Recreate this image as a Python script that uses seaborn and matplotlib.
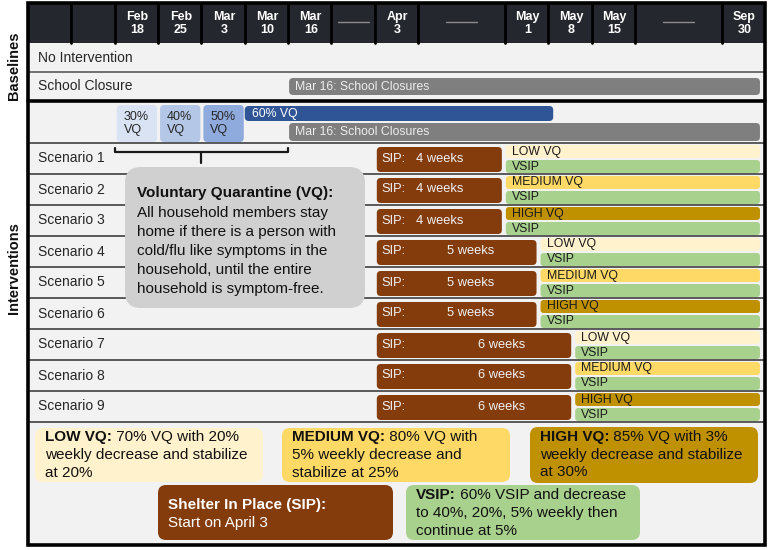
import datetime as dt
import numpy as np
import matplotlib.pyplot as plt
from matplotlib.patches import FancyBboxPatch, Rectangle
import seaborn as sns

# --- data -------------------------------------------------------------------
# header columns of the timeline (one column = one week, "None" = skipped stretch)
header_labels = ["", "", "Feb\n18", "Feb\n25", "Mar\n3", "Mar\n10", "Mar\n16",
                 None, "Apr\n3", None, "May\n1", "May\n8", "May\n15", None, "Sep\n30"]
header_widths = [1, 1, 1, 1, 1, 1, 1, 1, 1, 2, 1, 1, 1, 2, 1]

baselines = ["No Intervention", "School Closure"]
school_closure_start = "Mar 16"

vq_ramp_pct = [30, 40, 50]
vq_ramp_dates = ["Feb 18", "Feb 25", "Mar 3"]
vq_full_pct = 60
vq_full_span = ("Mar 10", "May 8")

scenarios = ["Scenario 1", "Scenario 2", "Scenario 3", "Scenario 4", "Scenario 5",
             "Scenario 6", "Scenario 7", "Scenario 8", "Scenario 9"]
sip_weeks = [4, 4, 4, 5, 5, 5, 6, 6, 6]
vq_levels = ["LOW VQ", "MEDIUM VQ", "HIGH VQ", "LOW VQ", "MEDIUM VQ", "HIGH VQ",
             "LOW VQ", "MEDIUM VQ", "HIGH VQ"]
sip_start = dt.date(2020, 4, 3)

level_colors = {"LOW VQ": "#fff2cc", "MEDIUM VQ": "#ffd966", "HIGH VQ": "#bf9000"}
ramp_colors = ["#dae3f3", "#b4c7e7", "#8faadc"]
C_SIP, C_VSIP, C_GRAY, C_BLUE = "#843c0c", "#a9d18e", "#7f7f7f", "#2f5597"

# --- style ------------------------------------------------------------------
sns.set_theme(style="white")
plt.rcParams["font.family"] = ["Liberation Sans", "DejaVu Sans"]

PX = 43.35   # pixels per week-column
X0 = 28      # left edge of the frame (px)
fig = plt.figure(figsize=(7.68, 5.5), dpi=100)
ax = fig.add_axes([0, 0, 1, 1])
ax.set_xlim(-X0 / PX, (768 - X0) / PX)
ax.set_ylim(550, 0)
ax.axis("off")
renderer = fig.canvas.get_renderer()


def px(v):
    return (v - X0) / PX


def d(n):
    return n / PX


def rbox(x0, x1, y0, y1, color, r=4, z=2):
    ax.add_patch(FancyBboxPatch((x0, y0), x1 - x0, y1 - y0,
                                boxstyle=f"round,pad=0,rounding_size={r / PX}",
                                mutation_aspect=PX, fc=color, ec="none", zorder=z))


def mixed(x, y, bold, rest, color, size=11, z=3):
    """bold lead-in followed by regular text on the same line"""
    t = ax.text(x, y, bold, va="center", fontsize=size, fontweight="bold",
                color=color, zorder=z)
    if rest:
        bb = t.get_window_extent(renderer)
        x_end = ax.transData.inverted().transform((bb.x1, bb.y0))[0]
        ax.text(x_end, y, " " + rest, va="center", fontsize=size, color=color, zorder=z)


# column positions of the dates
edges = np.concatenate([[0], np.cumsum(header_widths)])
END = edges[-1]
col = {}
for lab, e in zip(header_labels, edges[:-1]):
    if lab:
        col[lab.replace("\n", " ")] = e


def date_key(day):
    return f"{day:%b} {day.day}"


# frame + header
ax.add_patch(Rectangle((0, 3), END, 542, fc="#f2f2f2", ec="none", zorder=0))
ax.add_patch(Rectangle((0, 3), END, 40, fc="#24272e", ec="none", zorder=1))
for e in edges[1:-1]:
    ax.plot([e, e], [3, 43], color="#000000", lw=2, zorder=1.5)
for lab, e, w in zip(header_labels, edges[:-1], header_widths):
    cx = e + w / 2
    if lab is None:
        ax.plot([cx - 0.36, cx + 0.36], [22, 22], color="#8c8c8c", lw=1, zorder=2)
    elif lab:
        ax.text(cx + d(1), 23.5, lab, ha="center", va="center", color="white",
                fontsize=9, fontweight="bold", linespacing=1.15, zorder=3)

# row separators
ax.plot([0, END], [72, 72], color="#595959", lw=1.2, zorder=1)
ax.plot([0, END], [101, 101], color="#000000", lw=2.6, zorder=1)
for k in range(len(scenarios) + 1):
    y = 143 + 31 * k
    ax.plot([0, END], [y, y], color="#4d4d4d", lw=1.3, zorder=1)
ax.add_patch(Rectangle((0, 3), END, 542, fc="none", ec="#000000", lw=2.6, zorder=5))

# group labels
ax.text(px(14), 66, "Baselines", rotation=90, ha="center", va="center",
        fontsize=10.5, fontweight="bold", color="#111111")
ax.text(px(14), 268, "Interventions", rotation=90, ha="center", va="center",
        fontsize=10.5, fontweight="bold", color="#111111")

# baselines
for k, name in enumerate(baselines):
    ax.text(px(38), 57.5 + 29 * k, name, va="center", fontsize=10, color="#262626", zorder=3)
sc = col[school_closure_start]
rbox(sc + d(1), END - d(5), 78, 95, C_GRAY)
ax.text(sc + d(7), 86.5, "Mar 16: School Closures", va="center", fontsize=8.8,
        color="#eeeeee", zorder=3)

# voluntary quarantine ramp
for p, day, c in zip(vq_ramp_pct, vq_ramp_dates, ramp_colors):
    x = col[day]
    rbox(x + d(2), x + 1 - d(1), 105, 142, c)
    ax.text(x + d(9), 123.5, f"{p}%\nVQ", va="center", fontsize=9, linespacing=1.05,
            color="#262626", zorder=3)
v0, v1 = col[vq_full_span[0]], col[vq_full_span[1]]
rbox(v0, v1 + d(5), 106, 121, C_BLUE)
ax.text(v0 + d(7), 113.5, f"{vq_full_pct}% VQ", va="center", fontsize=8.8,
        color="white", zorder=3)
rbox(sc + d(1), END - d(5), 123, 141, C_GRAY)
ax.text(sc + d(7), 132, "Mar 16: School Closures", va="center", fontsize=8.8,
        color="#eeeeee", zorder=3)

# bracket under the VQ ramp
b0, b1 = col[vq_ramp_dates[0]], col[school_closure_start]
ax.plot([b0, b0, b1, b1], [148, 152, 152, 148], color="#1a1a1a", lw=1.6, zorder=2)
ax.plot([(b0 + b1) / 2] * 2, [152, 163], color="#1a1a1a", lw=1.6, zorder=2)

# scenarios
s0 = col[date_key(sip_start)]
for k, (name, w, lvl) in enumerate(zip(scenarios, sip_weeks, vq_levels)):
    top = 143 + 31 * k
    mid = top + 15.5
    ax.text(px(38), mid, name, va="center", fontsize=10, color="#262626", zorder=3)
    end_day = sip_start + dt.timedelta(weeks=w)
    e = col[date_key(end_day)] - 0.2 * (w - 4)
    rbox(s0 + d(2), e - d(3), top + 4, top + 29, C_SIP)
    ax.text(s0 + d(7), mid, "SIP:", va="center", fontsize=9.3, color="#f2f2f2", zorder=3)
    ax.text(s0 + 0.95 + 0.72 * (w - 4), mid, f"{w} weeks", va="center", fontsize=9.3,
            color="#f2f2f2", zorder=3)
    rbox(e + d(1), END - d(5), top + 2, top + 15, level_colors[lvl], r=3)
    ax.text(e + d(7), top + 8.5, lvl, va="center", fontsize=8.8, color="#1a1a1a", zorder=3)
    rbox(e + d(1), END - d(5), top + 17, top + 30, C_VSIP, r=3)
    ax.text(e + d(7), top + 23.5, "VSIP", va="center", fontsize=8.8, color="#1a1a1a", zorder=3)

# callout explaining VQ
rbox(px(125), px(365), 167, 308, "#d0d0d0", r=16, z=4)
ax.text(px(137), 193, "Voluntary Quarantine (VQ):", va="center", fontsize=11,
        fontweight="bold", color="#111111", zorder=6)
vq_lines = ["All household members stay", "home if there is a person with",
            "cold/flu like symptoms in the", "household, until the entire",
            "household is symptom-free."]
for k, line in enumerate(vq_lines):
    ax.text(px(137), 212.5 + 19.2 * k, line, va="center", fontsize=11,
            color="#111111", zorder=6)

# legend boxes
legend_boxes = [
    (35, 263, 428, 482, level_colors["LOW VQ"], "#111111", "LOW VQ:",
     ["70% VQ with 20%", "weekly decrease and stabilize", "at 20%"], 9),
    (282, 510, 428, 482, level_colors["MEDIUM VQ"], "#111111", "MEDIUM VQ:",
     ["80% VQ with", "5% weekly decrease and", "stabilize at 25%"], 9),
    (530, 758, 427, 483, level_colors["HIGH VQ"], "#111111", "HIGH VQ:",
     ["85% VQ with 3%", "weekly decrease and stabilize", "at 30%"], 9.5),
    (158, 393, 485, 540, C_SIP, "#ffffff", "Shelter In Place (SIP):",
     ["", "Start on April 3"], 20),
    (406, 640, 485, 540, C_VSIP, "#111111", "VSIP:",
     ["60% VSIP and decrease", "to 40%, 20%, 5% weekly then", "continue at 5%"], 10),
]
for x0, x1, y0, y1, fc, tc, head, lines, off in legend_boxes:
    rbox(px(x0), px(x1), y0, y1, fc, r=8)
    mixed(px(x0 + 10), y0 + off, head, lines[0], tc)
    for k, line in enumerate(lines[1:], start=1):
        ax.text(px(x0 + 10), y0 + off + 18 * k, line, va="center", fontsize=11,
                color=tc, zorder=3)

fig.savefig("out.png", dpi=100)
